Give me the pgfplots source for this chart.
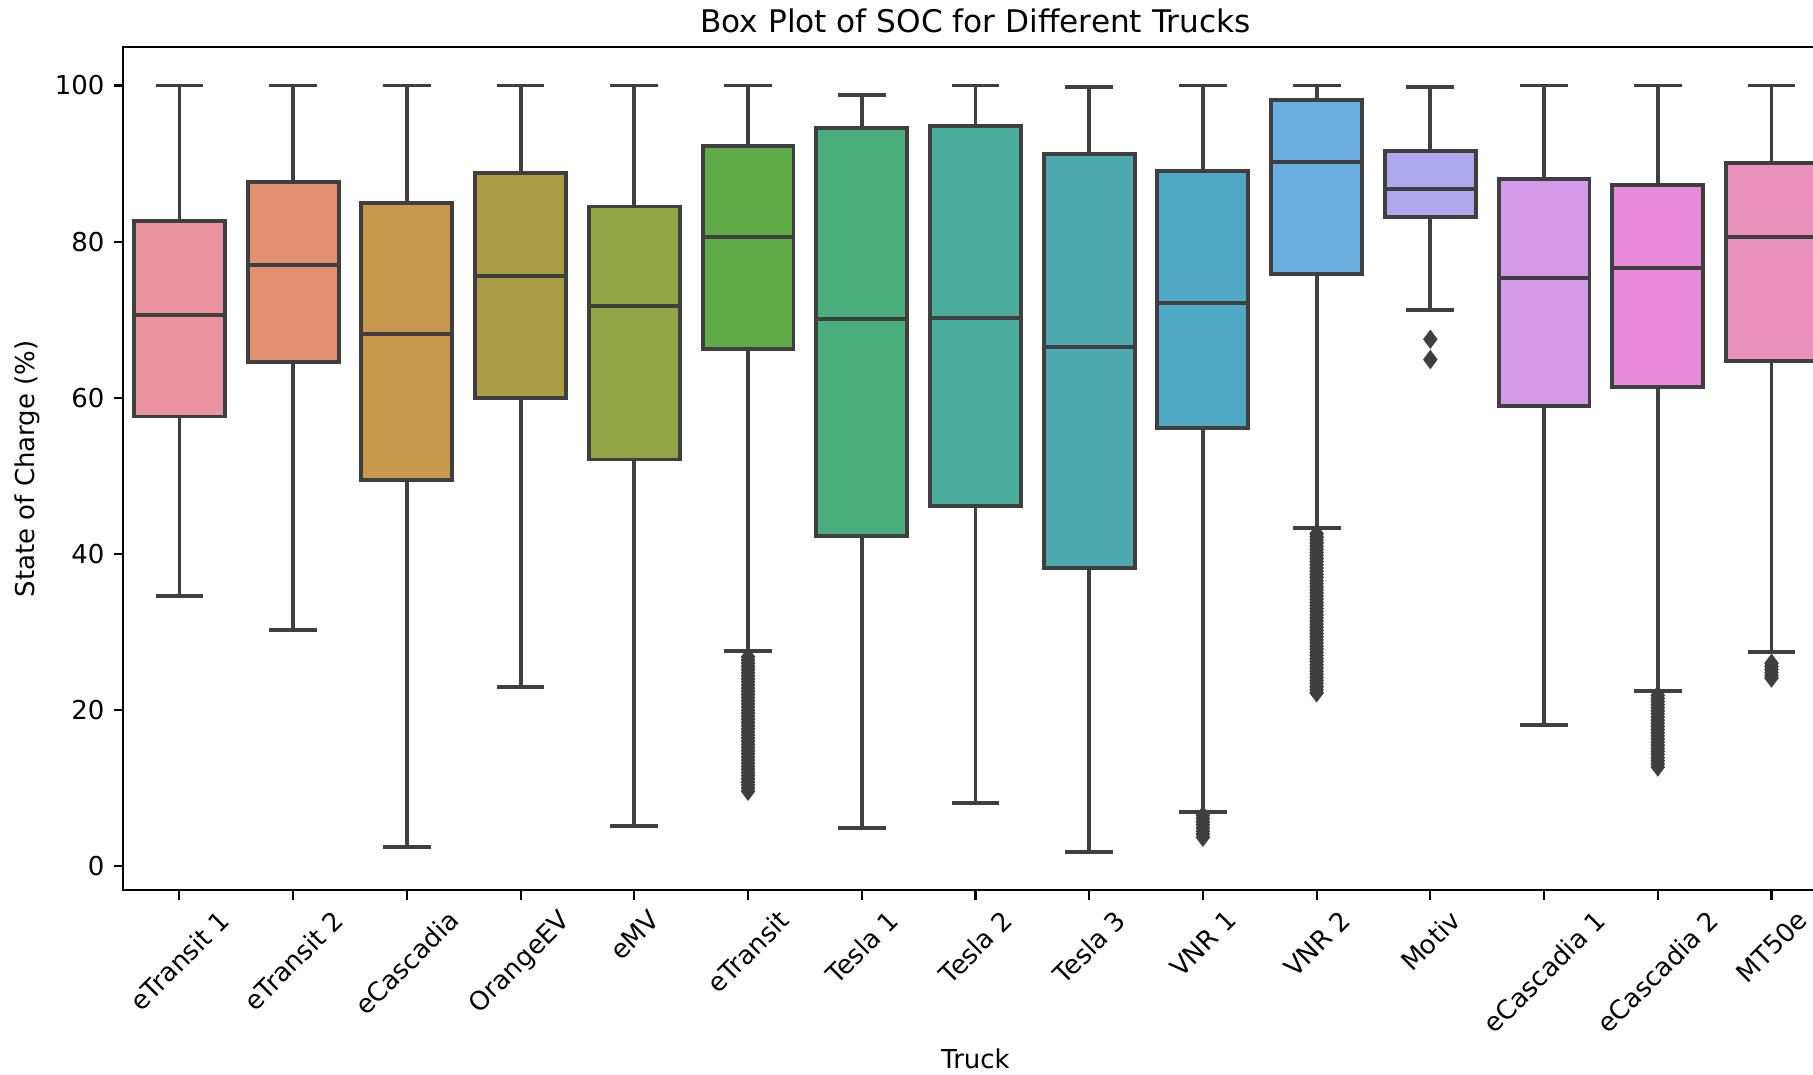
\documentclass[border=0pt]{standalone}
\usepackage{fontspec}
\setmainfont{DejaVu Sans}
\usepackage{graphicx}
\usepackage{pgfplots}
\pgfplotsset{compat=1.18}
\usepgfplotslibrary{statistics}

\definecolor{bx}{HTML}{3F3F3F}
\definecolor{c1}{HTML}{E8939F}
\definecolor{c2}{HTML}{E2906F}
\definecolor{c3}{HTML}{C8994D}
\definecolor{c4}{HTML}{AA9D46}
\definecolor{c5}{HTML}{93A444}
\definecolor{c6}{HTML}{5FAB47}
\definecolor{c7}{HTML}{4AAE7E}
\definecolor{c8}{HTML}{4AAC9A}
\definecolor{c9}{HTML}{4CAAAF}
\definecolor{c10}{HTML}{4FA8C4}
\definecolor{c11}{HTML}{6AAEE0}
\definecolor{c12}{HTML}{ADA8EB}
\definecolor{c13}{HTML}{D29AE9}
\definecolor{c14}{HTML}{E68AD9}
\definecolor{c15}{HTML}{E990BB}

\newcommand{\rl}[1]{\rotatebox{45}{#1}}

\pgfplotsset{
  bp/.style={draw=bx, line width=1.5pt, solid},
  fl/.style={only marks, mark=diamond*, mark size=3.4pt, mark options={fill=bx, draw=bx, line width=0.4pt}},
}

\begin{document}
\begin{tikzpicture}
\useasboundingbox (-47.2pt,-70.7pt) rectangle (650.8pt,342.8pt);
\clip (-47.2pt,-70.7pt) rectangle (650.8pt,342.8pt);
\begin{axis}[
  scale only axis, width=656.7pt, height=324.6pt,
  at={(0,0)}, anchor=south west,
  xmin=-0.5, xmax=14.5, ymin=-3.1, ymax=104.9,
  axis line style={line width=0.8pt, black},
  tick align=outside, major tick length=3.5pt,
  tick style={line width=0.8pt, black},
  xtick pos=left, ytick pos=left,
  xtick={0,1,2,3,4,5,6,7,8,9,10,11,12,13,14},
  xticklabels={\rl{eTransit 1},\rl{eTransit 2},\rl{eCascadia},\rl{OrangeEV},\rl{eMV},\rl{eTransit},\rl{Tesla 1},\rl{Tesla 2},\rl{Tesla 3},\rl{VNR 1},\rl{VNR 2},\rl{Motiv},\rl{eCascadia 1},\rl{eCascadia 2},\rl{MT50e}},
  xticklabel style={anchor=north},
  ytick={0,20,40,60,80,100},
  /pgf/number format/assume math mode=true,
  ylabel={State of Charge (\%)},
  ylabel style={at={(axis description cs:-0.0556,0.5)}, anchor=center},
  xlabel={Truck},
  xlabel style={at={(axis description cs:0.5,-0.2002)}, anchor=center},
  title={Box Plot of SOC for Different Trucks},
  every axis title/.style={at={(axis description cs:0.5,1.0314)}, anchor=center, font=\fontsize{12}{14}\selectfont},
  boxplot/draw direction=y,
  boxplot/box extend=0.8,
  boxplot/whisker extend=0.42,
]
\addplot[bp, fill=c1, boxplot prepared={draw position=0, lower whisker=34.6, lower quartile=57.6, median=70.6, upper quartile=82.6, upper whisker=100}] coordinates {};
\addplot[bp, fill=c2, boxplot prepared={draw position=1, lower whisker=30.2, lower quartile=64.6, median=77.0, upper quartile=87.7, upper whisker=100}] coordinates {};
\addplot[bp, fill=c3, boxplot prepared={draw position=2, lower whisker=2.5, lower quartile=49.5, median=68.2, upper quartile=85.0, upper whisker=100}] coordinates {};
\addplot[bp, fill=c4, boxplot prepared={draw position=3, lower whisker=23.0, lower quartile=60.0, median=75.6, upper quartile=88.8, upper whisker=100}] coordinates {};
\addplot[bp, fill=c5, boxplot prepared={draw position=4, lower whisker=5.1, lower quartile=52.1, median=71.8, upper quartile=84.5, upper whisker=100}] coordinates {};
\addplot[bp, fill=c6, boxplot prepared={draw position=5, lower whisker=27.6, lower quartile=66.2, median=80.6, upper quartile=92.2, upper whisker=100}] coordinates {};
\addplot[bp, fill=c7, boxplot prepared={draw position=6, lower whisker=4.9, lower quartile=42.3, median=70.1, upper quartile=94.6, upper whisker=98.8}] coordinates {};
\addplot[bp, fill=c8, boxplot prepared={draw position=7, lower whisker=8.1, lower quartile=46.1, median=70.2, upper quartile=94.8, upper whisker=100}] coordinates {};
\addplot[bp, fill=c9, boxplot prepared={draw position=8, lower whisker=1.8, lower quartile=38.2, median=66.5, upper quartile=91.2, upper whisker=99.8}] coordinates {};
\addplot[bp, fill=c10, boxplot prepared={draw position=9, lower whisker=7.0, lower quartile=56.1, median=72.2, upper quartile=89.0, upper whisker=100}] coordinates {};
\addplot[bp, fill=c11, boxplot prepared={draw position=10, lower whisker=43.3, lower quartile=75.9, median=90.2, upper quartile=98.1, upper whisker=100}] coordinates {};
\addplot[bp, fill=c12, boxplot prepared={draw position=11, lower whisker=71.2, lower quartile=83.2, median=86.8, upper quartile=91.6, upper whisker=99.8}] coordinates {};
\addplot[bp, fill=c13, boxplot prepared={draw position=12, lower whisker=18.1, lower quartile=59.0, median=75.4, upper quartile=88.0, upper whisker=100}] coordinates {};
\addplot[bp, fill=c14, boxplot prepared={draw position=13, lower whisker=22.5, lower quartile=61.4, median=76.6, upper quartile=87.3, upper whisker=100}] coordinates {};
\addplot[bp, fill=c15, boxplot prepared={draw position=14, lower whisker=27.4, lower quartile=64.7, median=80.6, upper quartile=90.1, upper whisker=100}] coordinates {};
% outliers
\addplot[fl] coordinates {(5,26.8)(5,26.4)(5,26.0)(5,25.6)(5,25.2)(5,24.8)(5,24.4)(5,24.0)(5,23.6)(5,23.2)(5,22.8)(5,22.4)(5,22.0)(5,21.6)(5,21.2)(5,20.8)(5,20.4)(5,20.0)(5,19.6)(5,19.2)(5,18.8)(5,18.4)(5,18.0)(5,17.6)(5,17.2)(5,16.8)(5,16.4)(5,16.0)(5,15.6)(5,15.2)(5,14.8)(5,14.4)(5,14.0)(5,13.6)(5,13.2)(5,12.8)(5,12.4)(5,12.0)(5,11.6)(5,11.2)(5,10.8)(5,10.4)(5,10.0)(5,9.6)};
\addplot[fl] coordinates {(9,6.5)(9,6.1)(9,5.7)(9,5.3)(9,4.9)(9,4.5)(9,4.1)(9,3.7)};
\addplot[fl] coordinates {(10,42.6)(10,42.2)(10,41.8)(10,41.4)(10,41.0)(10,40.6)(10,40.2)(10,39.8)(10,39.4)(10,39.0)(10,38.6)(10,38.2)(10,37.8)(10,37.4)(10,37.0)(10,36.6)(10,36.2)(10,35.8)(10,35.4)(10,35.0)(10,34.6)(10,34.2)(10,33.8)(10,33.4)(10,33.0)(10,32.6)(10,32.2)(10,31.8)(10,31.4)(10,31.0)(10,30.6)(10,30.2)(10,29.8)(10,29.4)(10,29.0)(10,28.6)(10,28.2)(10,27.8)(10,27.4)(10,27.0)(10,26.6)(10,26.2)(10,25.8)(10,25.4)(10,25.0)(10,24.6)(10,24.2)(10,23.8)(10,23.4)(10,23.0)(10,22.6)(10,22.2)};
\addplot[fl] coordinates {(11,67.5)(11,64.9)};
\addplot[fl] coordinates {(13,21.9)(13,21.5)(13,21.1)(13,20.7)(13,20.3)(13,19.9)(13,19.5)(13,19.1)(13,18.7)(13,18.3)(13,17.9)(13,17.5)(13,17.1)(13,16.7)(13,16.3)(13,15.9)(13,15.5)(13,15.1)(13,14.7)(13,14.3)(13,13.9)(13,13.5)(13,13.1)(13,12.7)};
\addplot[fl] coordinates {(14,26.0)(14,25.6)(14,25.2)(14,24.8)(14,24.4)(14,24.1)};
\end{axis}
\end{tikzpicture}
\end{document}
